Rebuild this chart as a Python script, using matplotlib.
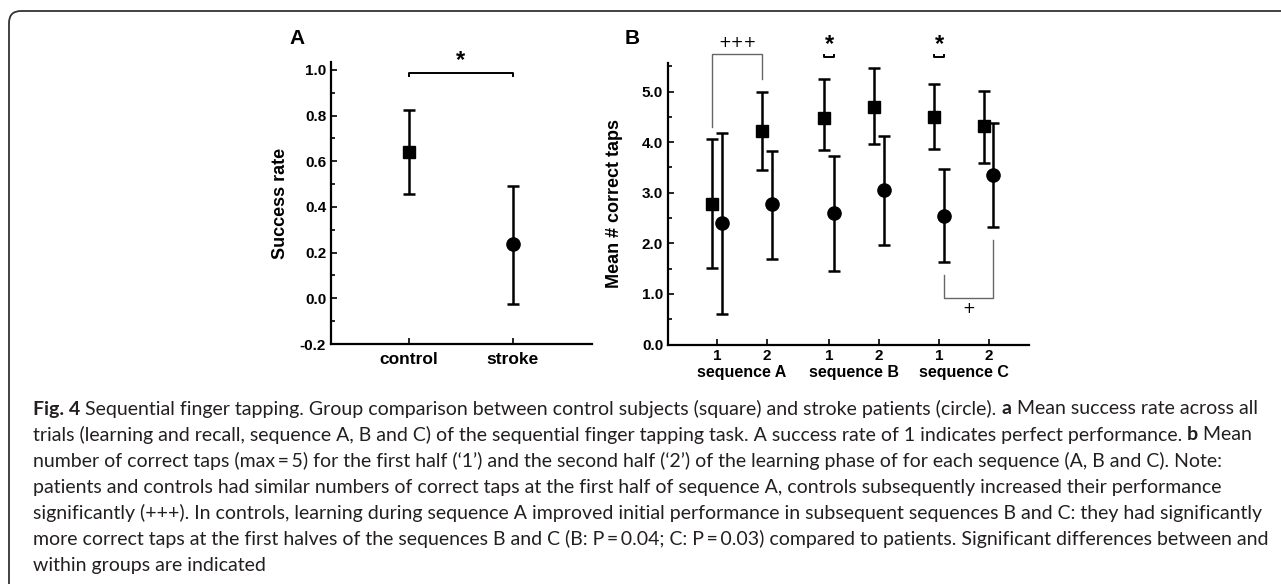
import matplotlib
matplotlib.use("Agg")
import matplotlib.pyplot as plt
import numpy as np
from matplotlib.patches import FancyBboxPatch

# ---- data -------------------------------------------------------------
# panel A: success rate
groups_a = ["control", "stroke"]
rate_mean = [0.643, 0.240]
rate_low = [0.458, -0.026]
rate_high = [0.825, 0.493]

# panel B: mean # correct taps, halves 1/2 of sequences A, B, C
half_labels = ["1", "2", "1", "2", "1", "2"]
seq_labels = ["sequence A", "sequence B", "sequence C"]
ctrl_mean = [2.78, 4.23, 4.47, 4.70, 4.49, 4.31]
ctrl_low = [1.51, 3.45, 3.85, 3.96, 3.87, 3.58]
ctrl_high = [4.06, 5.00, 5.25, 5.46, 5.15, 5.02]
strk_mean = [2.41, 2.77, 2.61, 3.06, 2.54, 3.35]
strk_low = [0.60, 1.69, 1.46, 1.97, 1.64, 2.33]
strk_high = [4.19, 3.83, 3.73, 4.13, 3.46, 4.37]

EQ = "\u2009=\u2009"
caption = [
    [("Fig. 4", True), (" Sequential finger tapping. Group comparison between control subjects (square) and stroke patients (circle). ", False),
     ("a", True), (" Mean success rate across all", False)],
    [("trials (learning and recall, sequence A, B and C) of the sequential finger tapping task. A success rate of 1 indicates perfect performance. ", False),
     ("b", True), (" Mean", False)],
    [("number of correct taps (max" + EQ + "5) for the first half (\u20181\u2019) and the second half (\u20182\u2019) of the learning phase of for each sequence (A, B and C). Note:", False)],
    [("patients and controls had similar numbers of correct taps at the first half of sequence A, controls subsequently increased their performance", False)],
    [("significantly (+++). In controls, learning during sequence A improved initial performance in subsequent sequences B and C: they had significantly", False)],
    [("more correct taps at the first halves of the sequences B and C (B: P" + EQ + "0.04; C: P" + EQ + "0.03) compared to patients. Significant differences between and", False)],
    [("within groups are indicated", False)],
]

plt.rcParams["font.family"] = ["Liberation Sans", "DejaVu Sans"]
plt.rcParams["font.weight"] = "bold"
plt.rcParams["axes.labelweight"] = "bold"

W, H = 1281, 584
fig = plt.figure(figsize=(W / 100, H / 100), dpi=100)


def px_axes(l, t, r, b):
    return fig.add_axes([l / W, 1 - b / H, (r - l) / W, (b - t) / H])


def style(ax):
    ax.spines[["top", "right"]].set_visible(False)
    for s in ["left", "bottom"]:
        ax.spines[s].set_linewidth(1.6)
    ax.tick_params(which="both", direction="in", width=1.2, labelsize=11)
    ax.tick_params(which="major", length=4)
    ax.tick_params(which="minor", length=3)
    ax.patch.set_alpha(0)


eb = dict(fmt="none", ecolor="black", elinewidth=1.8, capsize=4, capthick=1.8)

# ---- panel A ----------------------------------------------------------
axA = px_axes(331, 62, 592, 344)
style(axA)
xa = np.arange(1, len(groups_a) + 1)
m = np.array(rate_mean)
yerr = [m - np.array(rate_low), np.array(rate_high) - m]
axA.errorbar(xa, m, yerr=yerr, **eb)
axA.plot(xa[0], m[0], "s", color="black", ms=9)
axA.plot(xa[1], m[1], "o", color="black", ms=9.5)
axA.set_xlim(0.25, 2.76)
axA.set_ylim(-0.2, 1.035)
axA.set_yticks(np.arange(-0.2, 1.01, 0.2))
axA.set_yticks(np.arange(-0.1, 1.01, 0.2), minor=True)
axA.yaxis.set_major_formatter(plt.FormatStrFormatter("%.1f"))
axA.set_xticks(xa)
axA.set_xticklabels(groups_a, fontsize=12.5)
axA.tick_params(axis="x", pad=6)
axA.set_ylabel("Success rate", fontsize=13)
axA.yaxis.set_label_coords(-0.16, 0.5)
# significance bar
axA.plot([xa[0], xa[0], xa[1], xa[1]], [0.972, 0.987, 0.987, 0.972], color="black", lw=1.4, clip_on=False)
axA.text(1.5, 1.04, "*", ha="center", va="center", fontsize=17)

# ---- panel B ----------------------------------------------------------
axB = px_axes(668, 62.7, 1029, 344.6)
style(axB)
xb = np.array([1, 2, 3.27, 4.27, 5.5, 6.5])
off = 0.1
cm = np.array(ctrl_mean)
sm = np.array(strk_mean)
axB.errorbar(xb - off, cm, yerr=[cm - np.array(ctrl_low), np.array(ctrl_high) - cm], **eb)
axB.errorbar(xb + off, sm, yerr=[sm - np.array(strk_low), np.array(strk_high) - sm], **eb)
axB.plot(xb - off, cm, "s", color="black", ms=9, ls="none")
axB.plot(xb + off, sm, "o", color="black", ms=9.5, ls="none")
axB.set_xlim(0, 7.32)
axB.set_ylim(0, 5.57)
axB.set_yticks(np.arange(0, 5.01, 1.0))
axB.set_yticks(np.arange(0.5, 5.6, 1.0), minor=True)
axB.yaxis.set_major_formatter(plt.FormatStrFormatter("%.1f"))
axB.set_xticks(xb)
axB.set_xticklabels(half_labels, fontsize=11)
axB.tick_params(axis="x", pad=3)
axB.set_ylabel("Mean # correct taps", fontsize=13)
axB.yaxis.set_label_coords(-0.125, 0.5)
trans = axB.get_xaxis_transform()
for i, lab in enumerate(seq_labels):
    axB.text(xb[2 * i:2 * i + 2].mean(), -0.1, lab, transform=trans, ha="center", va="center", fontsize=11.5)

# within-group brackets
gc = "0.4"
axB.plot([xb[0] - off, xb[0] - off, xb[1] - off, xb[1] - off], [4.30, 5.74, 5.74, 5.25], color=gc, lw=1, clip_on=False)
axB.text((xb[0] + xb[1]) / 2 - off, 5.96, "+++", ha="center", va="center", fontsize=11, fontweight="normal", family="DejaVu Sans")
axB.plot([xb[4] + off, xb[4] + off, xb[5] + off, xb[5] + off], [1.37, 0.92, 0.92, 2.07], color=gc, lw=1, clip_on=False)
axB.text((xb[4] + xb[5]) / 2 + off, 0.72, "+", ha="center", va="center", fontsize=11, fontweight="normal", family="DejaVu Sans")
# between-group stars
for i in (2, 4):
    axB.plot([xb[i] - off, xb[i] - off, xb[i] + off, xb[i] + off], [5.72, 5.68, 5.68, 5.72], color="black", lw=1.4, clip_on=False)
    axB.text(xb[i], 5.93, "*", ha="center", va="center", fontsize=17, clip_on=False)

# panel letters
fig.text(297 / W, 1 - 38 / H, "A", ha="center", va="center", fontsize=15)
fig.text(632 / W, 1 - 38 / H, "B", ha="center", va="center", fontsize=15)

# ---- frame ------------------------------------------------------------
frame = FancyBboxPatch((0.09, -1.0), 13.0, 6.73, boxstyle="round,pad=0,rounding_size=0.12",
                       transform=fig.dpi_scale_trans, fill=False, lw=1.3, ec="#333333")
fig.patches.append(frame)

# ---- caption ----------------------------------------------------------
cap_font = ["Lato", "DejaVu Sans"]
cap_size = 14.0
y0 = 409
fig.canvas.draw()
r = fig.canvas.get_renderer()
for k, line in enumerate(caption):
    x = 33 / W
    y = 1 - (y0 + 26 * k) / H
    for txt, bold in line:
        t = fig.text(x, y, txt, ha="left", va="center", fontsize=cap_size, family=cap_font,
                     fontweight="bold" if bold else "normal", color="#231f20")
        bb = t.get_window_extent(renderer=r)
        x += bb.width / W

fig.savefig("out.png", dpi=100)
